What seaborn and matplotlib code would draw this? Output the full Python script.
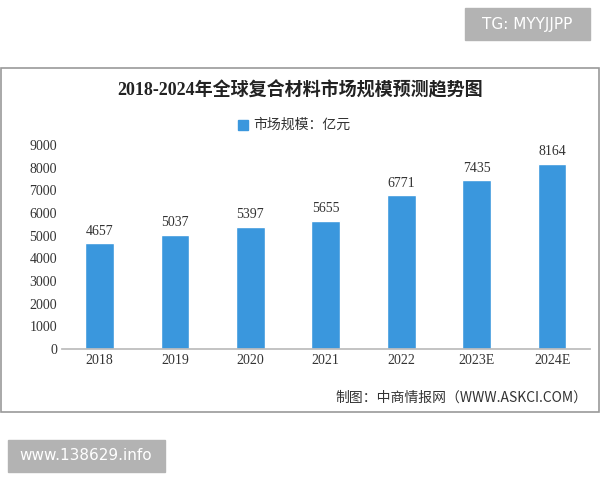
import matplotlib
matplotlib.use("Agg")
import matplotlib.pyplot as plt
import seaborn as sns
import pandas as pd
from matplotlib.patches import Rectangle

sns.set_theme(style="white")
plt.rcParams['font.family'] = ['Liberation Serif', 'Noto Sans CJK SC', 'DejaVu Sans']

years = ['2018', '2019', '2020', '2021', '2022', '2023E', '2024E']
values = [4657, 5037, 5397, 5655, 6771, 7435, 8164]
df = pd.DataFrame({'year': years, 'value': values})

fig = plt.figure(figsize=(6, 4.8), dpi=100)
# 外框
fig.patches.append(Rectangle((0.002, 1 - 412 / 480), 0.996, (412 - 68) / 480,
                             transform=fig.transFigure, fill=False,
                             edgecolor='#9a9a9a', linewidth=1.2))

ax = fig.add_axes([0.103, 0.273, 0.88, 0.425])
sns.barplot(data=df, x='year', y='value', color='#3a97dd', width=0.38,
            saturation=1, ax=ax)
ax.set_ylim(0, 9000)
ax.set_yticks(range(0, 9001, 1000))
ax.set_xlabel('')
ax.set_ylabel('')
for s in ['top', 'right', 'left']:
    ax.spines[s].set_visible(False)
ax.spines['bottom'].set_color('#bbbbbb')
ax.tick_params(axis='both', labelsize=10, colors='#333333', length=0)
for i, v in enumerate(values):
    ax.text(i, v + 250, str(v), ha='center', va='bottom', fontsize=10, color='#333333')

fig.text(0.5, 1 - 90 / 480, '2018-2024年全球复合材料市场规模预测趋势图',
         ha='center', va='center', fontsize=13, fontweight='bold', color='#222222')
fig.patches.append(Rectangle((238 / 600, 1 - 130 / 480), 10 / 600, 10 / 480,
                             transform=fig.transFigure, color='#3a97dd'))
fig.text(253 / 600, 1 - 125 / 480, '市场规模：亿元', ha='left', va='center',
         fontsize=10, color='#333333',
         family=['Noto Sans CJK SC', 'DejaVu Sans'])
fig.text(335 / 600, 1 - 398 / 480, '制图：中商情报网（WWW.ASKCI.COM）', ha='left',
         va='center', fontsize=10, color='#333333',
         family=['Noto Sans CJK SC', 'DejaVu Sans'])

# 水印框
fig.patches.append(Rectangle((465 / 600, 1 - 40 / 480), 125 / 600, 32 / 480,
                             transform=fig.transFigure, color='#b3b3b3'))
fig.text(527 / 600, 1 - 24 / 480, 'TG: MYYJJPP', ha='center', va='center',
         fontsize=11, color='white', family=['DejaVu Sans'])
fig.patches.append(Rectangle((8 / 600, 1 - 472 / 480), 157 / 600, 32 / 480,
                             transform=fig.transFigure, color='#b3b3b3'))
fig.text(86 / 600, 1 - 456 / 480, 'www.138629.info', ha='center', va='center',
         fontsize=11, color='white', family=['DejaVu Sans'])

fig.savefig('out.png', dpi=100)
